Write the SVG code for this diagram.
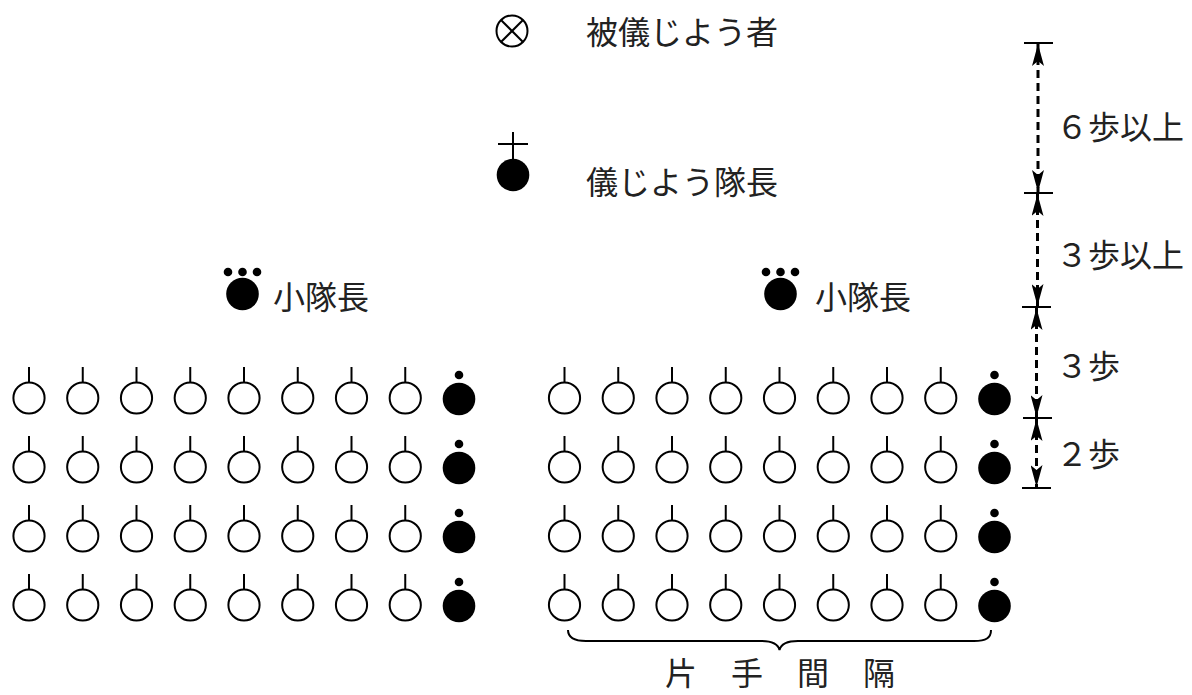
<svg xmlns="http://www.w3.org/2000/svg" xmlns:xlink="http://www.w3.org/1999/xlink" width="1192" height="695" viewBox="0 0 1192 695">
<style>
.t{font-family:"Noto Sans CJK JP","Noto Sans CJK SC",sans-serif;font-size:32px;fill:#222}
.ln{stroke:#000;stroke-width:2;fill:none}
.dash{stroke:#000;stroke-width:3;stroke-dasharray:8 5;fill:none}
.tick{stroke:#000;stroke-width:2}
</style>
<defs>
<g id="m"><line x1="0" y1="-31" x2="0" y2="-16" class="ln"/><circle cx="0" cy="0" r="15.6" class="ln"/></g>
<g id="f"><circle cx="0" cy="-23" r="4.3" fill="#000"/><circle cx="0" cy="1" r="16.3" fill="#000"/></g>
<marker id="arr" viewBox="0 -6 22 12" markerUnits="userSpaceOnUse" markerWidth="22" markerHeight="12" refX="22" refY="0" orient="auto-start-reverse"><path d="M22,0 L0,-6 L5,0 L0,6 Z" fill="#000"/></marker>
</defs>
<rect width="1192" height="695" fill="#fff"/>

<g id="reviewer">
<circle cx="512" cy="31" r="15.5" class="ln"/>
<line x1="501" y1="20" x2="523" y2="42" class="ln"/>
<line x1="523" y1="20" x2="501" y2="42" class="ln"/>
<text x="586" y="44" class="t">被儀じよう者</text>
</g>

<g id="commander">
<line x1="513" y1="132" x2="513" y2="162" class="ln"/>
<line x1="498" y1="144" x2="528" y2="144" class="ln"/>
<circle cx="513" cy="175" r="16.3" fill="#000"/>
<text x="586" y="194" class="t">儀じよう隊長</text>
</g>

<g id="platoon-leader-left">
<circle cx="228" cy="272" r="4.3" fill="#000"/><circle cx="242.5" cy="272" r="4.3" fill="#000"/><circle cx="257" cy="272" r="4.3" fill="#000"/>
<circle cx="242.5" cy="294" r="16.3" fill="#000"/>
<text x="273" y="309" class="t">小隊長</text>
</g>
<g id="platoon-leader-right">
<circle cx="766" cy="272" r="4.3" fill="#000"/><circle cx="780.5" cy="272" r="4.3" fill="#000"/><circle cx="795" cy="272" r="4.3" fill="#000"/>
<circle cx="780.5" cy="294" r="16.3" fill="#000"/>
<text x="815" y="309" class="t">小隊長</text>
</g>

<g id="left-platoon">
<g id="L1"><use href="#m" x="29" y="398"/><use href="#m" x="82.75" y="398"/><use href="#m" x="136.5" y="398"/><use href="#m" x="190.25" y="398"/><use href="#m" x="244" y="398"/><use href="#m" x="297.75" y="398"/><use href="#m" x="351.5" y="398"/><use href="#m" x="405.25" y="398"/><use href="#f" x="459" y="398"/></g>
<g id="L2"><use href="#m" x="29" y="467"/><use href="#m" x="82.75" y="467"/><use href="#m" x="136.5" y="467"/><use href="#m" x="190.25" y="467"/><use href="#m" x="244" y="467"/><use href="#m" x="297.75" y="467"/><use href="#m" x="351.5" y="467"/><use href="#m" x="405.25" y="467"/><use href="#f" x="459" y="467"/></g>
<g id="L3"><use href="#m" x="29" y="536"/><use href="#m" x="82.75" y="536"/><use href="#m" x="136.5" y="536"/><use href="#m" x="190.25" y="536"/><use href="#m" x="244" y="536"/><use href="#m" x="297.75" y="536"/><use href="#m" x="351.5" y="536"/><use href="#m" x="405.25" y="536"/><use href="#f" x="459" y="536"/></g>
<g id="L4"><use href="#m" x="29" y="605"/><use href="#m" x="82.75" y="605"/><use href="#m" x="136.5" y="605"/><use href="#m" x="190.25" y="605"/><use href="#m" x="244" y="605"/><use href="#m" x="297.75" y="605"/><use href="#m" x="351.5" y="605"/><use href="#m" x="405.25" y="605"/><use href="#f" x="459" y="605"/></g>
</g>

<g id="right-platoon">
<g id="R1"><use href="#m" x="564.5" y="398"/><use href="#m" x="618.25" y="398"/><use href="#m" x="672" y="398"/><use href="#m" x="725.75" y="398"/><use href="#m" x="779.5" y="398"/><use href="#m" x="833.25" y="398"/><use href="#m" x="887" y="398"/><use href="#m" x="940.75" y="398"/><use href="#f" x="994.5" y="398"/></g>
<g id="R2"><use href="#m" x="564.5" y="467"/><use href="#m" x="618.25" y="467"/><use href="#m" x="672" y="467"/><use href="#m" x="725.75" y="467"/><use href="#m" x="779.5" y="467"/><use href="#m" x="833.25" y="467"/><use href="#m" x="887" y="467"/><use href="#m" x="940.75" y="467"/><use href="#f" x="994.5" y="467"/></g>
<g id="R3"><use href="#m" x="564.5" y="536"/><use href="#m" x="618.25" y="536"/><use href="#m" x="672" y="536"/><use href="#m" x="725.75" y="536"/><use href="#m" x="779.5" y="536"/><use href="#m" x="833.25" y="536"/><use href="#m" x="887" y="536"/><use href="#m" x="940.75" y="536"/><use href="#f" x="994.5" y="536"/></g>
<g id="R4"><use href="#m" x="564.5" y="605"/><use href="#m" x="618.25" y="605"/><use href="#m" x="672" y="605"/><use href="#m" x="725.75" y="605"/><use href="#m" x="779.5" y="605"/><use href="#m" x="833.25" y="605"/><use href="#m" x="887" y="605"/><use href="#m" x="940.75" y="605"/><use href="#f" x="994.5" y="605"/></g>
</g>

<g id="interval">
<path d="M568,630 C568,638 574,641 586,641 L761,641 C772,641 778,644 779.5,650 C781,644 787,641 798,641 L974,641 C986,641 991,638 991,630" class="ln"/>
<text x="665" y="685" class="t" style="letter-spacing:34px">片手間隔</text>
</g>

<g id="connectors">
<line x1="1024" y1="43" x2="1053" y2="43" class="tick"/>
<line x1="1024" y1="193" x2="1053" y2="193" class="tick"/>
<line x1="1022" y1="307" x2="1051" y2="307" class="tick"/>
<line x1="1023" y1="418" x2="1052" y2="418" class="tick"/>
<line x1="1022" y1="488" x2="1051" y2="488" class="tick"/>
<line x1="1038" y1="44" x2="1038" y2="192" class="dash" marker-start="url(#arr)" marker-end="url(#arr)"/>
<line x1="1037.5" y1="194" x2="1037.5" y2="306" class="dash" marker-start="url(#arr)" marker-end="url(#arr)"/>
<line x1="1036.5" y1="308" x2="1036.5" y2="417" class="dash" marker-start="url(#arr)" marker-end="url(#arr)"/>
<line x1="1036.5" y1="419" x2="1036.5" y2="487" class="dash" marker-start="url(#arr)" marker-end="url(#arr)"/>
</g>

<g id="labels">
<text x="1056" y="139" class="t">６歩以上</text>
<text x="1056" y="267" class="t">３歩以上</text>
<text x="1056" y="378" class="t">３歩</text>
<text x="1056" y="466" class="t">２歩</text>
</g>
</svg>
